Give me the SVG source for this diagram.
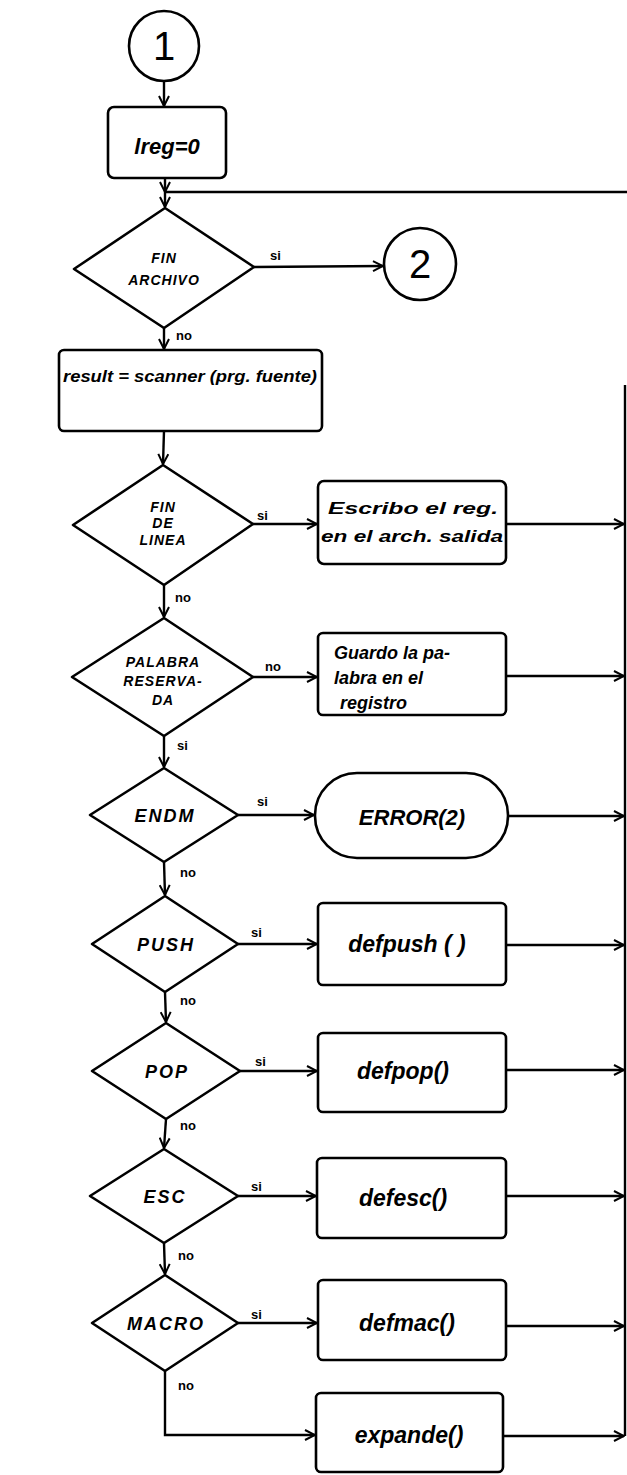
<svg xmlns="http://www.w3.org/2000/svg" width="627" height="1475" viewBox="0 0 627 1475">
<defs>
<marker id="arr" viewBox="0 0 12 12" refX="11" refY="6" markerWidth="12" markerHeight="12" markerUnits="userSpaceOnUse" orient="auto">
<path d="M1,1 L11,6 L1,11" fill="none" stroke="#000" stroke-width="2"/>
</marker>
<style>
.s{fill:#fff;stroke:#000;stroke-width:2.6;stroke-linejoin:round}
.c{fill:none;stroke:#000;stroke-width:2.4}
.t{font-family:"Liberation Sans",Arial,sans-serif;font-style:italic;font-weight:bold;font-size:18px;fill:#000}
.n{font-family:"Liberation Sans",Arial,sans-serif;font-size:40px;fill:#000;text-anchor:middle}
.d{font-family:"Liberation Sans",Arial,sans-serif;font-weight:bold;font-style:italic;font-size:14px;letter-spacing:1px;fill:#000;text-anchor:middle}
.dl{font-family:"Liberation Sans",Arial,sans-serif;font-weight:bold;font-style:italic;font-size:18px;letter-spacing:2px;fill:#000;text-anchor:middle}
.l{font-family:"Liberation Sans",Arial,sans-serif;font-weight:bold;font-size:13px;fill:#000}
.m{text-anchor:middle}
</style>
</defs>
<rect width="627" height="1475" fill="#fff"/>

<g id="connectors">
<path class="c" d="M164,82 L164,106" marker-end="url(#arr)"/>
<path class="c" d="M165,178 L165,192" marker-end="url(#arr)"/>
<path class="c" d="M627,192 L165,192"/>
<path class="c" d="M165,192 L165,207" marker-end="url(#arr)"/>
<path class="c" d="M254,267 L383,266" marker-end="url(#arr)"/>
<path class="c" d="M164,328 L164,349" marker-end="url(#arr)"/>
<path class="c" d="M164,431 L163,464" marker-end="url(#arr)"/>
<path class="c" d="M253,524 L317,524" marker-end="url(#arr)"/>
<path class="c" d="M164,585 L164,617" marker-end="url(#arr)"/>
<path class="c" d="M253,677 L317,677" marker-end="url(#arr)"/>
<path class="c" d="M164,736 L164,767" marker-end="url(#arr)"/>
<path class="c" d="M238,815 L314,815" marker-end="url(#arr)"/>
<path class="c" d="M164,862 L165,895" marker-end="url(#arr)"/>
<path class="c" d="M238,944 L317,944" marker-end="url(#arr)"/>
<path class="c" d="M165,992 L166,1022" marker-end="url(#arr)"/>
<path class="c" d="M240,1071 L317,1071" marker-end="url(#arr)"/>
<path class="c" d="M166,1119 L164,1148" marker-end="url(#arr)"/>
<path class="c" d="M238,1196 L316,1196" marker-end="url(#arr)"/>
<path class="c" d="M164,1243 L165,1274" marker-end="url(#arr)"/>
<path class="c" d="M238,1323 L317,1323" marker-end="url(#arr)"/>
<path class="c" d="M165,1371 L165,1435 L315,1435" marker-end="url(#arr)"/>
<path class="c" d="M625,385 L625,1436"/>
<path class="c" d="M506,524 L624,524" marker-end="url(#arr)"/>
<path class="c" d="M506,676 L624,676" marker-end="url(#arr)"/>
<path class="c" d="M508,816 L624,816" marker-end="url(#arr)"/>
<path class="c" d="M506,945 L624,945" marker-end="url(#arr)"/>
<path class="c" d="M506,1070 L624,1070" marker-end="url(#arr)"/>
<path class="c" d="M506,1196 L624,1196" marker-end="url(#arr)"/>
<path class="c" d="M506,1326 L624,1326" marker-end="url(#arr)"/>
<path class="c" d="M503,1436 L624,1436" marker-end="url(#arr)"/>
<text class="l" x="270" y="260">si</text>
<text class="l" x="176" y="340">no</text>
<text class="l" x="257" y="520">si</text>
<text class="l" x="175" y="602">no</text>
<text class="l" x="265" y="671">no</text>
<text class="l" x="177" y="750">si</text>
<text class="l" x="257" y="806">si</text>
<text class="l" x="180" y="877">no</text>
<text class="l" x="251" y="937">si</text>
<text class="l" x="180" y="1005">no</text>
<text class="l" x="255" y="1066">si</text>
<text class="l" x="180" y="1130">no</text>
<text class="l" x="251" y="1191">si</text>
<text class="l" x="178" y="1260">no</text>
<text class="l" x="251" y="1319">si</text>
<text class="l" x="178" y="1390">no</text>
</g>

<g id="start1">
<circle class="s" cx="164" cy="46" r="35"/>
<text class="n" x="164" y="60">1</text>
</g>
<g id="init">
<rect class="s" x="108" y="107" width="118" height="71" rx="6"/>
<text class="t m" x="167" y="154" style="font-size:22px">lreg=0</text>
</g>
<g id="finarchivo">
<polygon class="s" points="165,208 254,267 164,328 74,269"/>
<text class="d" x="164" y="263">FIN</text>
<text class="d" x="164" y="285">ARCHIVO</text>
</g>
<g id="end2">
<circle class="s" cx="420" cy="264" r="36"/>
<text class="n" x="420" y="278">2</text>
</g>
<g id="scanner">
<rect class="s" x="59" y="350" width="263" height="81" rx="5"/>
<text class="t" x="63" y="382" style="font-size:16px" textLength="254" lengthAdjust="spacingAndGlyphs">result = scanner (prg. fuente)</text>
</g>
<g id="finlinea">
<polygon class="s" points="163,465 253,524 164,585 73,525"/>
<text class="d" x="163" y="512">FIN</text>
<text class="d" x="163" y="528">DE</text>
<text class="d" x="163" y="545">LINEA</text>
</g>
<g id="escribo">
<rect class="s" x="318" y="481" width="188" height="83" rx="6"/>
<text class="t" x="328" y="514" style="font-size:17px" textLength="170" lengthAdjust="spacingAndGlyphs">Escribo el reg.</text>
<text class="t" x="321" y="542" style="font-size:17px" textLength="182" lengthAdjust="spacingAndGlyphs">en el arch. salida</text>
</g>
<g id="palabra">
<polygon class="s" points="164,618 253,677 164,736 72,677"/>
<text class="d" x="163" y="667">PALABRA</text>
<text class="d" x="163" y="686">RESERVA-</text>
<text class="d" x="163" y="705">DA</text>
</g>
<g id="guardo">
<rect class="s" x="318" y="633" width="188" height="82" rx="5"/>
<text class="t" x="334" y="659" style="font-size:18px">Guardo la pa-</text>
<text class="t" x="334" y="684" style="font-size:18px">labra en el</text>
<text class="t" x="340" y="709" style="font-size:18px">registro</text>
</g>
<g id="endm">
<polygon class="s" points="164,768 238,815 164,862 90,815"/>
<text class="dl" x="165" y="822">ENDM</text>
</g>
<g id="error">
<rect class="s" x="315" y="773" width="193" height="85" rx="42"/>
<text class="t m" x="412" y="825" style="font-size:22px">ERROR(2)</text>
</g>
<g id="push">
<polygon class="s" points="165,896 238,944 165,992 92,944"/>
<text class="dl" x="166" y="951">PUSH</text>
</g>
<g id="defpush">
<rect class="s" x="318" y="903" width="188" height="82" rx="5"/>
<text class="t m" x="407" y="952" style="font-size:23px">defpush ( )</text>
</g>
<g id="pop">
<polygon class="s" points="166,1023 240,1071 166,1119 92,1071"/>
<text class="dl" x="167" y="1078">POP</text>
</g>
<g id="defpop">
<rect class="s" x="318" y="1033" width="188" height="79" rx="5"/>
<text class="t m" x="403" y="1079" style="font-size:23px">defpop()</text>
</g>
<g id="esc">
<polygon class="s" points="164,1149 238,1196 164,1243 90,1196"/>
<text class="dl" x="165" y="1203">ESC</text>
</g>
<g id="defesc">
<rect class="s" x="317" y="1158" width="189" height="80" rx="5"/>
<text class="t m" x="403" y="1206" style="font-size:23px">defesc()</text>
</g>
<g id="macro">
<polygon class="s" points="165,1275 238,1323 165,1371 92,1323"/>
<text class="dl" x="166" y="1330">MACRO</text>
</g>
<g id="defmac">
<rect class="s" x="318" y="1280" width="188" height="80" rx="5"/>
<text class="t m" x="407" y="1331" style="font-size:23px">defmac()</text>
</g>
<g id="expande">
<rect class="s" x="316" y="1393" width="187" height="79" rx="5"/>
<text class="t m" x="409" y="1443" style="font-size:23px">expande()</text>
</g>
</svg>
